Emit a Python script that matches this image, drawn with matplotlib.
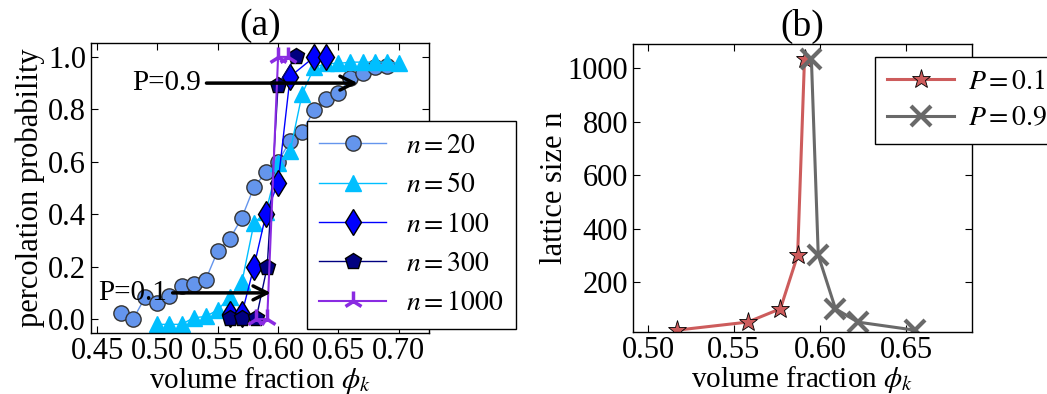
import matplotlib
matplotlib.use("Agg")
import matplotlib.pyplot as plt

plt.rcParams['font.family'] = 'Liberation Serif'
plt.rcParams['mathtext.fontset'] = 'stix'
plt.rcParams['font.size'] = 22
plt.rcParams['xtick.direction'] = 'in'
plt.rcParams['ytick.direction'] = 'in'
plt.rcParams['xtick.top'] = True
plt.rcParams['ytick.right'] = True
plt.rcParams['xtick.major.size'] = 5
plt.rcParams['ytick.major.size'] = 5
plt.rcParams['xtick.major.pad'] = 3
plt.rcParams['axes.linewidth'] = 1.0

# percolation probability vs volume fraction, one curve per lattice size
phi_20 = [0.47, 0.48, 0.49, 0.50, 0.51, 0.52, 0.53, 0.54, 0.55, 0.56, 0.57, 0.58,
          0.59, 0.60, 0.61, 0.62, 0.63, 0.64, 0.65, 0.66, 0.67, 0.68, 0.69]
p_20 = [0.023, 0.0, 0.085, 0.063, 0.09, 0.127, 0.133, 0.15, 0.26, 0.305, 0.387, 0.503,
        0.56, 0.60, 0.68, 0.715, 0.797, 0.838, 0.861, 0.918, 0.937, 0.962, 0.966]

phi_50 = [0.50, 0.51, 0.52, 0.53, 0.54, 0.55, 0.56, 0.57, 0.58, 0.59, 0.60, 0.61,
          0.62, 0.63, 0.64, 0.65, 0.66, 0.67, 0.68, 0.69, 0.70]
p_50 = [-0.02, -0.02, -0.02, 0.005, 0.01, 0.035, 0.085, 0.14, 0.365, 0.41, 0.595, 0.64,
        0.86, 0.96, 0.975, 0.975, 0.98, 0.98, 0.98, 0.98, 0.975]

phi_100 = [0.56, 0.57, 0.58, 0.59, 0.60, 0.61, 0.63, 0.64]
p_100 = [0.02, 0.02, 0.2, 0.4, 0.52, 0.925, 1.0, 1.0]

phi_300 = [0.56, 0.57, 0.582, 0.591, 0.60, 0.615]
p_300 = [0.005, 0.005, 0.005, 0.2, 0.892, 1.005]

phi_1000 = [0.582, 0.591, 0.600, 0.608]
p_1000 = [0.0, 0.0, 1.0, 1.0]

# lattice size at which P reaches 0.1 / 0.9
phi_p01 = [0.517, 0.558, 0.577, 0.587, 0.591]
n_p01 = [20, 50, 100, 300, 1035]
phi_p09 = [0.595, 0.599, 0.609, 0.622, 0.655]
n_p09 = [1035, 300, 100, 50, 20]

fig = plt.figure(figsize=(10.47, 3.94), dpi=100)
ax1 = fig.add_axes([0.0869, 0.1548, 0.3228, 0.7361])
ax2 = fig.add_axes([0.6046, 0.1574, 0.3238, 0.7309])

ax1.plot(phi_20, p_20, '-o', color='cornflowerblue', mec='#333333', ms=11, lw=1, label='$n=20$')
ax1.plot(phi_50, p_50, '-^', color='deepskyblue', mec='deepskyblue', ms=11, lw=1, label='$n=50$')
ax1.plot(phi_100, p_100, '-d', color='blue', mec='black', ms=13, lw=1, label='$n=100$')
ax1.plot(phi_300, p_300, '-p', color='navy', mec='black', ms=12, lw=1, label='$n=300$')
ax1.plot(phi_1000, p_1000, '-2', color='blueviolet', ms=14, mew=2.5, lw=1.5, label='$n=1000$')

ax1.annotate('P=0.9', xy=(0.666, 0.9), xytext=(0.479, 0.9), va='center', ha='left', fontsize=21,
             arrowprops=dict(arrowstyle='->', lw=2.5, color='black', shrinkA=2, shrinkB=0,
                             mutation_scale=25))
ax1.annotate('P=0.1', xy=(0.594, 0.1), xytext=(0.451, 0.1), va='center', ha='left', fontsize=21,
             arrowprops=dict(arrowstyle='->', lw=2.5, color='black', shrinkA=2, shrinkB=0,
                             mutation_scale=25))

ax1.set_xlim(0.445, 0.725)
ax1.set_ylim(-0.053, 1.053)
ax1.set_xticks([0.45, 0.50, 0.55, 0.60, 0.65, 0.70])
ax1.set_yticks([0.0, 0.2, 0.4, 0.6, 0.8, 1.0])
ax1.set_xlabel(r'volume fraction $\phi_k$', fontsize=21, labelpad=-1)
ax1.set_ylabel('percolation probability', labelpad=2)
ax1.set_title('(a)', fontsize=27, pad=6)
leg1 = ax1.legend(loc='upper left', bbox_to_anchor=(0.2932, 0.6929), bbox_transform=fig.transFigure,
                  numpoints=1, fancybox=False, framealpha=1, edgecolor='black', fontsize=20,
                  handlelength=2.4, handletextpad=0.7, borderpad=0.45, labelspacing=0.5,
                  borderaxespad=0)
leg1.get_frame().set_linewidth(1.0)

ax2.plot(phi_p01, n_p01, '-*', color='indianred', mec='black', mew=0.6, ms=14, lw=2.2, label='$P=0.1$')
ax2.plot(phi_p09, n_p09, '-x', color='dimgray', ms=14, mew=3, lw=2.2, label='$P=0.9$')
ax2.set_xlim(0.4913, 0.6884)
ax2.set_ylim(13, 1090)
ax2.set_xticks([0.50, 0.55, 0.60, 0.65])
ax2.set_yticks([200, 400, 600, 800, 1000])
ax2.set_xlabel(r'volume fraction $\phi_k$', fontsize=21, labelpad=-1)
ax2.set_ylabel('lattice size n', labelpad=-1)
ax2.set_title('(b)', fontsize=27, pad=6)
leg2 = ax2.legend(loc='upper left', bbox_to_anchor=(0.8357, 0.8553), bbox_transform=fig.transFigure,
                  numpoints=1, fancybox=False, framealpha=1, edgecolor='black', fontsize=20,
                  handlelength=2.4, handletextpad=0.5, borderpad=0.45, labelspacing=0.4,
                  borderaxespad=0)
leg2.get_frame().set_linewidth(1.0)

fig.savefig('out.png', dpi=100)
